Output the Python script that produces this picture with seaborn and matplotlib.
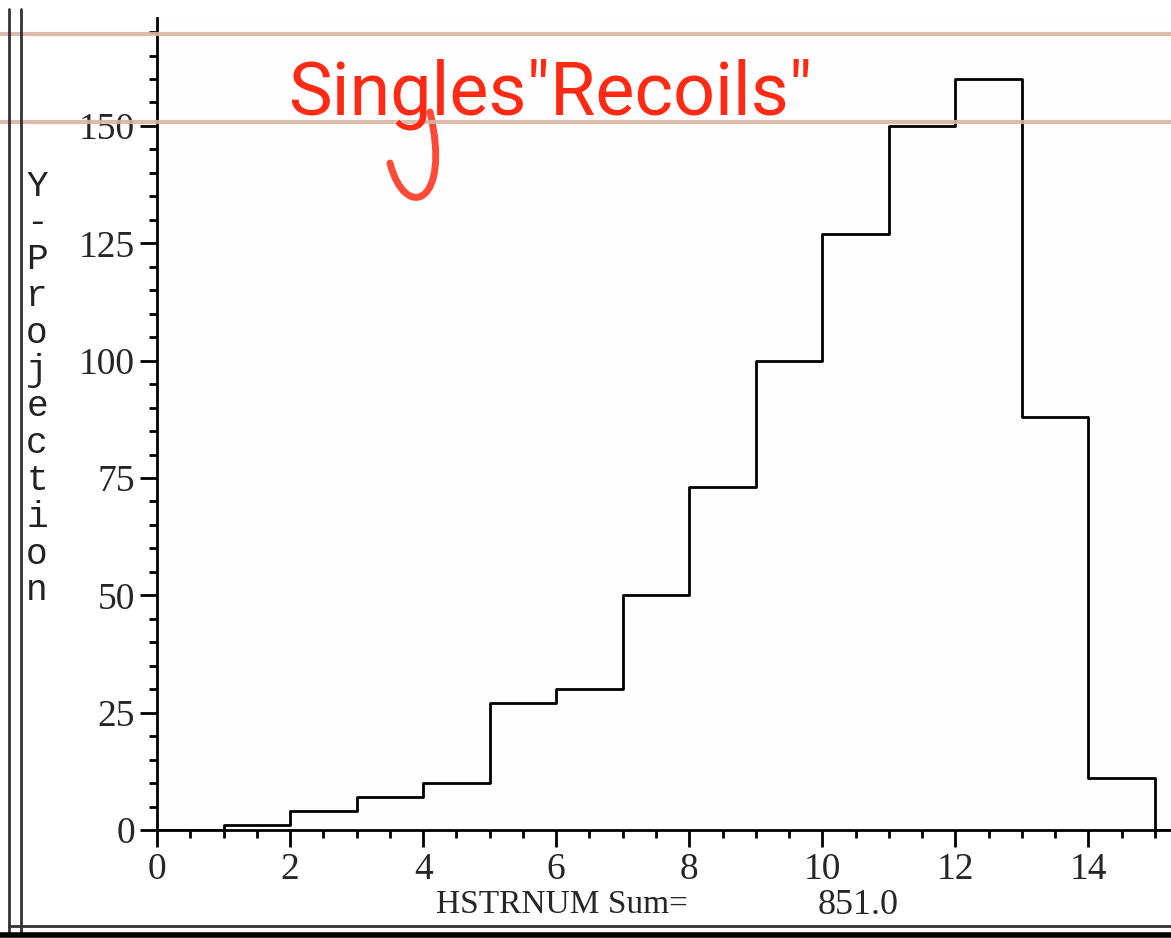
import numpy as np
import pandas as pd
import matplotlib.pyplot as plt
from matplotlib.lines import Line2D
from matplotlib.patches import PathPatch
from matplotlib.path import Path
from matplotlib.ticker import MultipleLocator
import seaborn as sns

# histogram bins (HSTRNUM) and counts
bin_left = [0, 1, 2, 3, 4, 5, 6, 7, 8, 9, 10, 11, 12, 13, 14, 15]
counts = [0, 1, 4, 7, 10, 27, 30, 50, 73, 100, 127, 150, 160, 88, 11, 0]
y_label = "Y-Projection"
x_label = "HSTRNUM Sum="
sum_text = "851.0"
note = 'Singles"Recoils"'

sns.set_style("white")
plt.rcParams['font.family'] = ['Liberation Serif', 'DejaVu Serif']

df = pd.DataFrame({"hstrnum": np.array(bin_left) + 0.5, "count": counts})

fig = plt.figure(figsize=(11.71, 9.38), dpi=100)
ax = fig.add_axes([157 / 1171, 1 - 830 / 938, 1 - 157 / 1171, (830 - 18) / 938])

sns.histplot(data=df, x="hstrnum", weights="count", bins=len(bin_left),
             binrange=(0, len(bin_left)), element="step", fill=False,
             color="black", linewidth=2, ax=ax)

ax.set_xlim(0, 15.24)
ax.set_ylim(0, 173)
ax.set_xlabel("")
ax.set_ylabel("")
sns.despine(ax=ax, top=True, right=True)
for s in ("left", "bottom"):
    ax.spines[s].set_linewidth(2)
    ax.spines[s].set_color("black")

ax.xaxis.set_major_locator(MultipleLocator(2))
ax.xaxis.set_minor_locator(MultipleLocator(0.5))
ax.yaxis.set_major_locator(MultipleLocator(25))
ax.yaxis.set_minor_locator(MultipleLocator(5))
ax.tick_params(which="both", direction="out", color="black", width=2)
ax.tick_params(which="major", length=12, labelsize=27, pad=4)
ax.tick_params(which="minor", length=6)
ax.tick_params(axis="x", which="both", bottom=True)
ax.tick_params(axis="y", which="both", left=True)
ax.set_yticks([0, 25, 50, 75, 100, 125, 150])
ax.set_facecolor("#fefefe")

# stacked vertical y label
for i, ch in enumerate(y_label):
    fig.text(37 / 1171, 1 - (186 + i * 36.8) / 938, ch, family="Liberation Mono",
             fontsize=26, ha="center", va="center", color="#222222")

fig.text(562 / 1171, 1 - 905 / 938, x_label, fontsize=24, ha="center", va="center")
fig.text(858 / 1171, 1 - 905 / 938, sum_text, fontsize=26, ha="center", va="center")

# scan artefacts: page rules and frame
for yy in (34, 122):
    fig.add_artist(Line2D([0, 1], [1 - yy / 938] * 2, color="#d9b4a4", lw=3, alpha=0.9))
for xx in (9, 21):
    fig.add_artist(Line2D([xx / 1171] * 2, [0.005, 0.99], color="#333333", lw=2))
fig.add_artist(Line2D([9 / 1171, 1], [1 - 926 / 938] * 2, color="#333333", lw=2))
fig.add_artist(Line2D([0, 1], [1 - 935 / 938] * 2, color="black", lw=4))

# handwritten note
fig.text(288 / 1171, 1 - 114 / 938, note, fontsize=53, color="#ff2a14",
         family="Roboto", ha="left", va="baseline")
verts = [(430, 112), (452, 205), (405, 222), (390, 163)]
verts = [(x / 1171, 1 - y / 938) for x, y in verts]
hook = Path(verts, [Path.MOVETO, Path.CURVE4, Path.CURVE4, Path.CURVE4])
fig.add_artist(PathPatch(hook, transform=fig.transFigure, facecolor="none",
                         edgecolor="#ff2a14", lw=5, alpha=0.85, capstyle="round"))

fig.savefig("out.png", dpi=100, facecolor="white")
